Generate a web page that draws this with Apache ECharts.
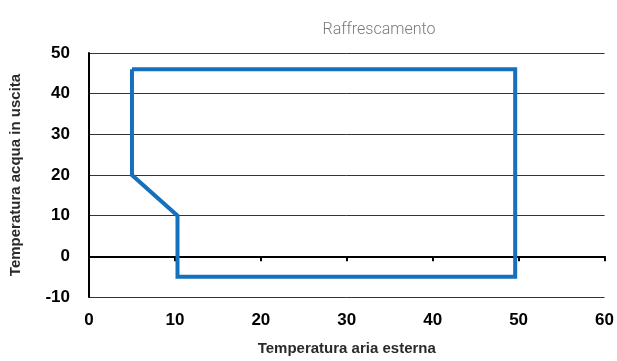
<!DOCTYPE html>
<html>
<head>
<meta charset="utf-8">
<script src="https://cdn.jsdelivr.net/npm/echarts@6/dist/echarts.min.js"></script>
<style>
  html, body { margin: 0; padding: 0; background: #fff; }
  #chart { width: 617px; height: 361px; }
</style>
</head>
<body>
<div id="chart"></div>
<script>
// campo di funzionamento - raffrescamento
var titleText = "Raffrescamento";
var xName = "Temperatura aria esterna";
var yName = "Temperatura acqua in uscita";
var airTemp = [5, 49.6, 49.6, 10.3, 10.3, 5, 5];
var waterTemp = [46, 46, -5, -5, 10, 20, 46];

var chart = echarts.init(document.getElementById("chart"));
var labelStyle = {
  color: "#000",
  fontFamily: "Liberation Sans, Arial, sans-serif",
  fontWeight: "bold",
  fontSize: 17
};
var nameStyle = {
  color: "#2a2a2a",
  fontFamily: "Liberation Sans, Arial, sans-serif",
  fontWeight: "bold",
  fontSize: 15
};
chart.setOption({
  animation: false,
  title: {
    text: titleText,
    left: 374,
    textAlign: "center",
    top: 17,
    textStyle: {
      color: "#7a7a7a",
      fontFamily: "Roboto, sans-serif",
      fontWeight: 300,
      fontSize: 16
    }
  },
  grid: { left: 87, right: 12, top: 53, bottom: 62 },
  xAxis: {
    type: "value",
    min: 0,
    max: 60,
    interval: 10,
    name: xName,
    nameLocation: "middle",
    nameGap: 44,
    nameTextStyle: nameStyle,
    axisLine: { lineStyle: { color: "#000", width: 2 } },
    axisTick: { show: true, length: 5, lineStyle: { color: "#000", width: 2 } },
    axisLabel: Object.assign({ margin: 15 }, labelStyle),
    splitLine: { show: false }
  },
  yAxis: {
    type: "value",
    min: -10,
    max: 50,
    interval: 10,
    name: yName,
    nameLocation: "middle",
    nameGap: 66,
    nameTextStyle: nameStyle,
    axisLine: { show: true, lineStyle: { color: "#000", width: 2 } },
    axisTick: { show: false },
    axisLabel: Object.assign({ margin: 19 }, labelStyle),
    splitLine: { show: true, lineStyle: { color: "#333", width: 1 } }
  },
  series: [
    {
      type: "line",
      data: airTemp.map(function (x, i) { return [x, waterTemp[i]]; }),
      symbol: "none",
      lineStyle: { color: "#1570bd", width: 4, join: "miter" }
    }
  ]
});
</script>
</body>
</html>
